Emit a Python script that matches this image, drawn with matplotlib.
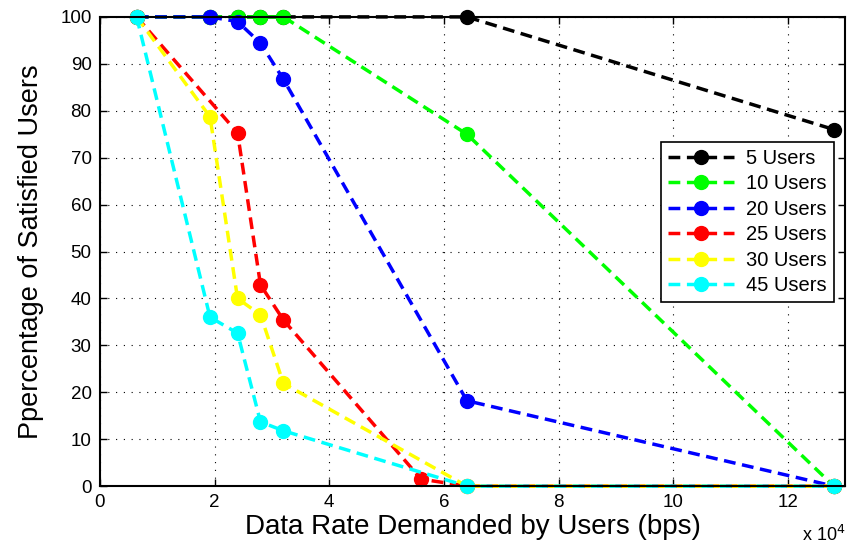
import matplotlib
matplotlib.use("Agg")
import matplotlib.pyplot as plt

plt.rcParams['font.family'] = ['Liberation Sans', 'DejaVu Sans']

labels = ['5 Users', '10 Users', '20 Users', '25 Users', '30 Users', '45 Users']
colors = ['black', '#00ff00', 'blue', 'red', 'yellow', 'cyan']

x5 = [6400, 19200, 24000, 28000, 32000, 64000, 128000]
y5 = [100, 100, 100, 100, 100, 100, 76]
x10 = [6400, 19200, 24000, 28000, 32000, 64000, 128000]
y10 = [100, 100, 100, 100, 100, 75, 0]
x20 = [6400, 19200, 24000, 28000, 32000, 64000, 128000]
y20 = [100, 100, 99, 94.4, 86.7, 18.2, 0]
x25 = [6400, 24000, 28000, 32000, 56000, 64000, 128000]
y25 = [100, 75.3, 42.9, 35.4, 1.5, 0, 0]
x30 = [6400, 19200, 24000, 28000, 32000, 64000, 128000]
y30 = [100, 78.7, 40.0, 36.5, 21.9, 0, 0]
x45 = [6400, 19200, 24000, 28000, 32000, 64000, 128000]
y45 = [100, 36.0, 32.6, 13.7, 11.8, 0, 0]

xs = [x5, x10, x20, x25, x30, x45]
ys = [y5, y10, y20, y25, y30, y45]

xticks = [0, 20000, 40000, 60000, 80000, 100000, 120000]
xticklabels = ['0', '2', '4', '6', '8', '10', '12']
yticks = list(range(0, 101, 10))

fig = plt.figure(figsize=(8.47, 5.45), dpi=100)
ax = fig.add_axes([0.118, 0.108, 0.880, 0.861])

for x, y, c, lab in zip(xs, ys, colors, labels):
    ax.plot(x, y, '--o', color=c, lw=2.5, ms=10, dashes=(3.4, 1.9), label=lab,
            clip_on=False)

ax.set_xlim(0, 130000)
ax.set_ylim(0, 100)
ax.set_xticks(xticks)
ax.set_xticklabels(xticklabels)
ax.set_yticks(yticks)
ax.tick_params(direction='in', top=True, right=True, labelsize=13.5, length=5,
               width=1, pad=6)
ax.grid(True, color='black', linestyle=(0, (1, 6)), linewidth=0.8)
for s in ax.spines.values():
    s.set_linewidth(1.5)

ax.set_xlabel('Data Rate Demanded by Users (bps)', fontsize=20, labelpad=2)
ax.set_ylabel('Ppercentage of Satisfied Users', fontsize=19.5, labelpad=12)
ax.text(1.0, -0.105, r'x 10$^4$', transform=ax.transAxes, ha='right', va='center',
        fontsize=13)

leg = ax.legend(loc='upper right', bbox_to_anchor=(0.99, 0.742), fontsize=14.5,
                fancybox=False, edgecolor='black', framealpha=1,
                handlelength=3.3, labelspacing=0.32, borderpad=0.35,
                handletextpad=0.6, borderaxespad=0.2)
leg.get_frame().set_linewidth(1.2)

fig.savefig('out.png', dpi=100)
